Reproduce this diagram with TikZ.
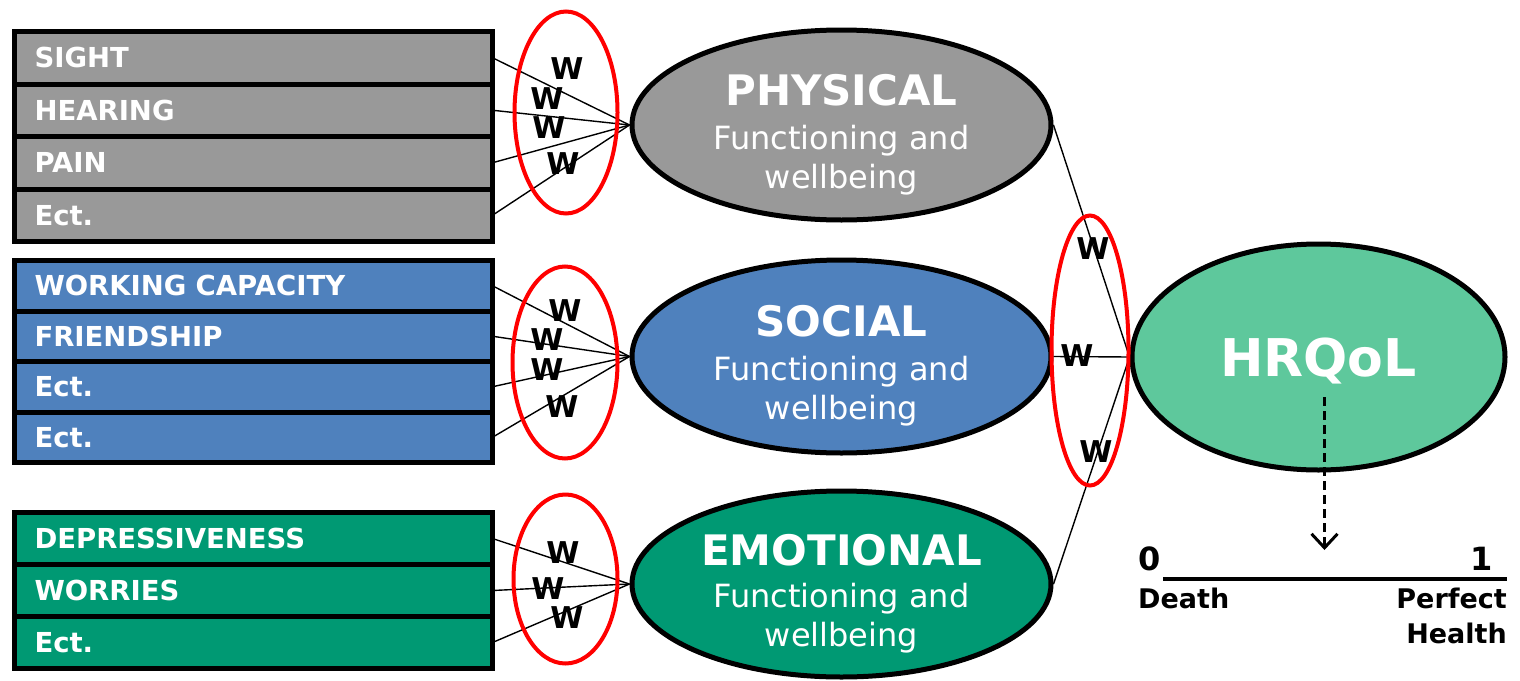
\documentclass[tikz,border=0pt]{standalone}
\usepackage{fontspec}
\setmainfont{DejaVu Sans}
\usetikzlibrary{positioning,shapes.geometric,arrows.meta}
\definecolor{physgray}{RGB}{153,153,153}
\definecolor{socblue}{RGB}{79,129,189}
\definecolor{emogreen}{RGB}{0,153,115}
\definecolor{hrqgreen}{RGB}{94,200,156}

\begin{document}
\begin{tikzpicture}[x=1pt, y=-1pt,
	row/.style={rectangle, draw, line width=5pt, outer sep=0pt, minimum width=478pt, text width=438pt,
		inner xsep=20pt, inner ysep=0pt, align=left, text=white,
		font=\fontsize{27.5}{30}\selectfont\bfseries, text height=19.5pt, text depth=0pt},
	oval/.style={ellipse, draw, line width=5pt, inner sep=0pt},
	ring/.style={ellipse, draw=red, line width=4pt, inner sep=0pt},
	wlab/.style={font=\fontsize{30}{30}\selectfont\bfseries, inner sep=0pt},
	ttl/.style={text=white, inner sep=0pt, font=\fontsize{42}{44}\selectfont\bfseries},
	sub/.style={text=white, inner sep=0pt, align=center, font=\fontsize{32}{39}\selectfont},
	link/.style={line width=1.4pt}]
		\path[fill=white] (0,0) rectangle (1520,680);

		% item boxes
		\node [row, fill=physgray, minimum height=52.5pt] (g1) at (253.5,57.75) {SIGHT};
		\node [row, fill=physgray, minimum height=52.5pt, below=0pt of g1] (g2) {HEARING};
		\node [row, fill=physgray, minimum height=52.5pt, below=0pt of g2] (g3) {PAIN};
		\node [row, fill=physgray, minimum height=52.5pt, below=0pt of g3] (g4) {Ect.};

		\node [row, fill=socblue, minimum height=50.5pt] (b1) at (253.5,285.75) {WORKING CAPACITY};
		\node [row, fill=socblue, minimum height=50.5pt, below=0pt of b1] (b2) {FRIENDSHIP};
		\node [row, fill=socblue, minimum height=50.5pt, below=0pt of b2] (b3) {Ect.};
		\node [row, fill=socblue, minimum height=50.5pt, below=0pt of b3] (b4) {Ect.};

		\node [row, fill=emogreen, minimum height=52pt] (e1) at (253.5,538.5) {DEPRESSIVENESS};
		\node [row, fill=emogreen, minimum height=52pt, below=0pt of e1] (e2) {WORRIES};
		\node [row, fill=emogreen, minimum height=52pt, below=0pt of e2] (e3) {Ect.};

		% domains
		\node [oval, fill=physgray, minimum width=419pt, minimum height=190pt] (PHY) at (841.5,125) {};
		\node [oval, fill=socblue, minimum width=419pt, minimum height=193pt] (SOC) at (841.5,356.5) {};
		\node [oval, fill=emogreen, minimum width=419pt, minimum height=186pt] (EMO) at (841.5,584) {};
		\node [oval, fill=hrqgreen, minimum width=373pt, minimum height=226pt, text=white, text depth=0pt,
			font=\fontsize{52}{56}\selectfont\bfseries] (HRQ) at (1318.5,357) {HRQoL};

		\node [ttl] (PHYt) at ([yshift=35pt]PHY.center) {PHYSICAL};
		\node [sub] (PHYs) at ([yshift=-35pt]PHY.center) {Functioning and\\wellbeing};
		\node [ttl] (SOCt) at ([yshift=35pt]SOC.center) {SOCIAL};
		\node [sub] (SOCs) at ([yshift=-35pt]SOC.center) {Functioning and\\wellbeing};
		\node [ttl] (EMOt) at ([yshift=34pt]EMO.center) {EMOTIONAL};
		\node [sub] (EMOs) at ([yshift=-34pt]EMO.center) {Functioning and\\wellbeing};

		\path[link] (g1.east) edge (PHY.west);
		\path[link] (g2.east) edge (PHY.west);
		\path[link] (g3.east) edge (PHY.west);
		\path[link] (g4.east) edge (PHY.west);
		\path[link] (b1.east) edge (SOC.west);
		\path[link] (b2.east) edge (SOC.west);
		\path[link] (b3.east) edge (SOC.west);
		\path[link] (b4.east) edge (SOC.west);
		\path[link] (e1.east) edge (EMO.west);
		\path[link] (e2.east) edge (EMO.west);
		\path[link] (e3.east) edge (EMO.west);
		\path[link] (PHY.east) edge (HRQ.west);
		\path[link] (SOC.east) edge (HRQ.west);
		\path[link] (EMO.east) edge (HRQ.west);

		% weights
		\node [ring, minimum width=103pt, minimum height=202pt] (rg) at (566,112.5) {};
		\node [ring, minimum width=105pt, minimum height=192pt] (rb) at (565,362.5) {};
		\node [ring, minimum width=104pt, minimum height=169pt] (re) at (565.5,579) {};
		\node [ring, minimum width=77pt, minimum height=270pt] (rh) at (1090,350.5) {};

		\node [wlab] (wg1) at (567,69) {W};
		\node [wlab] (wg2) at (547,99) {W};
		\node [wlab] (wg3) at (549,128) {W};
		\node [wlab] (wg4) at (563,164) {W};
		\node [wlab] (wb1) at (565,311) {W};
		\node [wlab] (wb2) at (547,340) {W};
		\node [wlab] (wb3) at (547,370) {W};
		\node [wlab] (wb4) at (562,407) {W};
		\node [wlab] (we1) at (563,553) {W};
		\node [wlab] (we2) at (548,589) {W};
		\node [wlab] (we3) at (567,618) {W};
		\node [wlab] (wh1) at (1093,249) {W};
		\node [wlab] (wh2) at (1077,356) {W};
		\node [wlab] (wh3) at (1096,452) {W};

		% scale
		\coordinate (lo) at (1163,579);
		\coordinate (hi) at (1507,579);
		\coordinate (val) at (1324.5,397);
		\coordinate (mark) at (1324.5,550);
		\draw [line width=4pt] (lo) -- (hi);
		\draw [line width=3pt, dash pattern=on 9pt off 5pt, -{Straight Barb[length=14pt, width=26pt, line width=3pt]}] (val) -- (mark);
		\node [anchor=south west, inner sep=0pt, font=\fontsize{32}{32}\selectfont\bfseries] (zero) at (1138,571) {0};
		\node [anchor=south east, inner sep=0pt, font=\fontsize{32}{32}\selectfont\bfseries] (one) at (1493,571) {1};
		\node [anchor=north west, inner sep=0pt, font=\fontsize{27}{35}\selectfont\bfseries] (death) at (1138,588) {Death};
		\node [anchor=north east, inner sep=0pt, align=right, font=\fontsize{27}{35}\selectfont\bfseries] (perf) at (1507,588) {Perfect\\Health};
	\end{tikzpicture}
\end{document}
